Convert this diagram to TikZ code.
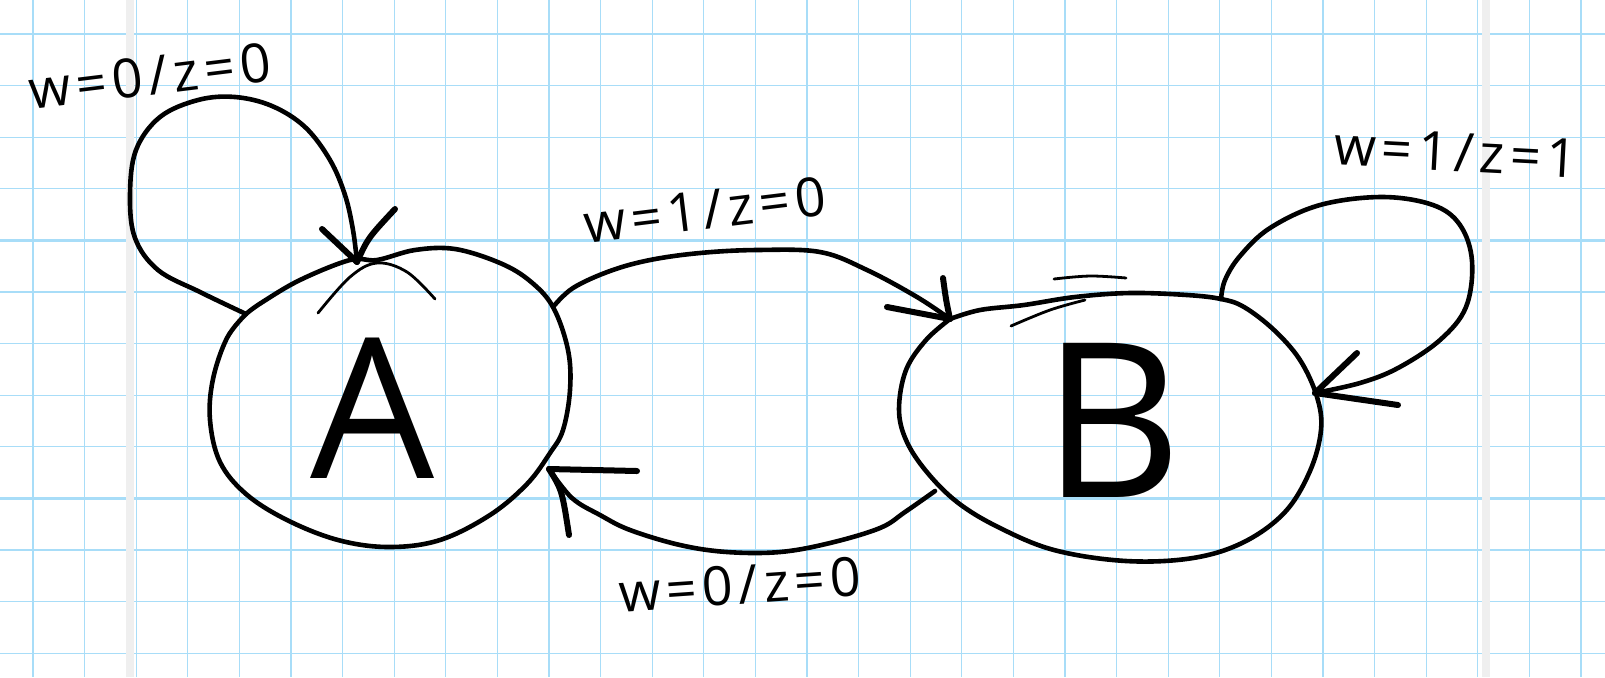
\documentclass[tikz,border=0pt]{standalone}
\usepackage{fontspec}
\setmainfont{Open Sans}
\definecolor{gridblue}{HTML}{A8DDF8}
\definecolor{bandgray}{HTML}{EFEFEF}
\begin{document}
\begin{tikzpicture}[x=0.5pt,y=-0.5pt,
  gridminor/.style={gridblue, line width=0.55pt},
  gridmajor/.style={gridblue, line width=1.1pt},
  ink/.style={line width=2.3pt, line cap=round, line join=round},
  thinink/.style={line width=1.4pt, line cap=round, line join=round},
  headink/.style={line width=3pt, line cap=round, line join=round},
  lbl/.style={font=\fontsize{27}{30}\selectfont\addfontfeatures{LetterSpace=10}, inner sep=0pt},
  statelbl/.style={inner sep=0pt}]
\useasboundingbox (0,0) rectangle (1605,677);
\fill[white] (0,0) rectangle (1605,677);
% grid
\foreach \k in {0,...,30} {
  \pgfmathsetmacro\xx{33+51.6*\k}
  \draw[gridminor] (\xx,0) -- (\xx,677);
}
\foreach \k in {0,5,...,30} {
  \pgfmathsetmacro\xx{33+51.6*\k}
  \draw[gridmajor] (\xx,0) -- (\xx,677);
}
\foreach \k in {0,...,12} {
  \pgfmathsetmacro\yy{34+51.6*\k}
  \draw[gridminor] (0,\yy) -- (1605,\yy);
}
\foreach \k in {4,9} {
  \pgfmathsetmacro\yy{34+51.6*\k}
  \draw[gridmajor] (0,\yy) -- (1605,\yy);
}
\fill[bandgray] (126,0) rectangle (134,677);
\fill[bandgray] (1482,0) rectangle (1490,677);

% state letters
\node[statelbl, font=\fontsize{98}{100}\selectfont] (A) at (373,408) {A};
\node[statelbl, font=\fontsize{108}{110}\selectfont] (B) at (1112,420) {B};

% state A boundary
\draw[ink] plot[smooth, tension=0.6] coordinates {(246,314) (227,338) (213,379) (210,420) (220,462) (246,494) (287,520) (338,540) (389,547) (440,540) (490,515) (527,484) (550,453) (563,430) (570,390) (568,350) (553,307) (530,281) (500,263) (455,249) (415,250) (377,260) (350,260) (300,280) (261,303) (246,314)};
\draw[thinink] plot[smooth, tension=0.6] coordinates {(318,313) (350,277) (377,263) (407,272) (435,299)};

% state B boundary
\draw[ink] plot[smooth, tension=0.6] coordinates {(950,319) (926,340) (906,370) (899,409) (906,440) (926,471) (957,502) (998,527) (1054,550) (1126,561) (1193,558) (1244,542) (1285,512) (1310,471) (1321,430) (1317,397) (1300,360) (1274,330) (1244,307) (1221,299) (1187,295) (1130,293) (1075,297) (1024,305) (980,310) (950,319)};
\draw[thinink] plot[smooth, tension=0.6] coordinates {(1011,326) (1050,310) (1085,300)};
\draw[thinink] plot[smooth, tension=0.6] coordinates {(1054,279) (1090,276) (1126,278)};

% connector anchors
\coordinate (aLoopS) at (246,314);
\coordinate (aLoopT) at (357,262);
\coordinate (abS) at (553,307);
\coordinate (abT) at (950,319);
\coordinate (bLoopS) at (1221,299);
\coordinate (bLoopT) at (1315,393);
\coordinate (baS) at (935,491);
\coordinate (baT) at (549,469);

% self loop on A
\draw[ink] plot[smooth, tension=0.6] coordinates {(aLoopS) (200,292) (158,270) (135,238) (130,195) (136,150) (160,117) (198,100) (235,97) (272,106) (305,127) (330,160) (345,195) (353,230) (aLoopT)};
\draw[headink] (aLoopT) -- (322,229);
\draw[headink] (aLoopT) .. controls (368,238) .. (395,209);

% A -> B
\draw[ink] plot[smooth, tension=0.6] coordinates {(abS) (573,288) (610,271) (650,260) (700,253) (757,250) (820,252) (867,270) (917,297) (abT)};
\draw[headink] (abT) -- (887,307);
\draw[headink] (abT) .. controls (946,300) .. (943,278);

% self loop on B
\draw[ink] plot[smooth, tension=0.6] coordinates {(bLoopS) (1225,280) (1240,256) (1270,228) (1320,205) (1382,197) (1433,205) (1460,225) (1472,261) (1466,307) (1440,340) (1398,368) (1360,383) (bLoopT)};
\draw[headink] (bLoopT) -- (1357,353);
\draw[headink] (bLoopT) -- (1398,405);

% B -> A
\draw[ink] plot[smooth, tension=0.6] coordinates {(baS) (905,512) (880,528) (830,543) (780,552) (727,552) (680,545) (630,530) (600,515) (572,498) (baT)};
\draw[headink] (baT) -- (637,471);
\draw[headink] (baT) .. controls (562,490) .. (569,535);

% labels
\node[lbl, rotate=7] (lAA) at (150,76) {w=0/z=0};
\node[lbl, rotate=7] (lAB) at (705,210) {w=1/z=0};
\node[lbl, rotate=-3] (lBB) at (1456,152) {w=1/z=1};
\node[lbl, rotate=4] (lBA) at (740,585) {w=0/z=0};
\end{tikzpicture}
\end{document}
